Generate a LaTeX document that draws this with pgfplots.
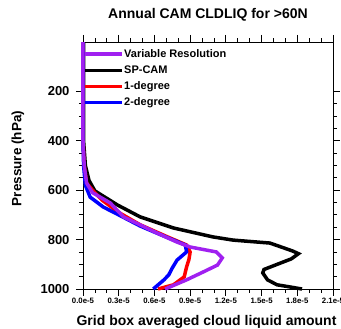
\documentclass[border=0pt]{standalone}
\usepackage{fontspec}
\setmainfont{Liberation Sans}
\usepackage{pgfplots}
\pgfplotsset{compat=1.18}
\definecolor{vrpurple}{RGB}{160,32,240}
\begin{document}
\begin{tikzpicture}
\useasboundingbox (-83pt,-40pt) rectangle (258pt,289pt);
\begin{axis}[
  scale only axis, width=250pt, height=247pt,
  xmin=0, xmax=2.1, ymin=0, ymax=1000, y dir=reverse,
  clip=false,
  axis line style={line width=0.8pt},
  every tick/.style={black, line width=0.8pt},
  tick align=outside,
  major tick length=7pt, minor tick length=4pt,
  xtick={0,0.3,0.6,0.9,1.2,1.5,1.8,2.1},
  xticklabels={0.0e-5,0.3e-5,0.6e-5,0.9e-5,1.2e-5,1.5e-5,1.8e-5,2.1e-5},
  minor x tick num=2,
  ytick={200,400,600,800,1000},
  yticklabels={200,400,600,800,1000},
  minor y tick num=3,
  /pgf/number format/assume math mode=true,
  xticklabel style={font=\fontsize{7.8}{9}\selectfont\bfseries, yshift=1pt},
  yticklabel style={font=\fontsize{13}{15}\selectfont\bfseries, xshift=-3pt},
  title={Annual CAM CLDLIQ for >60N},
  title style={font=\fontsize{14}{16}\selectfont\bfseries, at={(rel axis cs:0.5,1)}, anchor=center, yshift=21pt},
  xlabel={Grid box averaged cloud liquid amount},
  xlabel style={font=\fontsize{14}{16}\selectfont\bfseries, at={(rel axis cs:0.494,0)}, anchor=center, yshift=-33pt},
  ylabel={Pressure (hPa)},
  ylabel style={font=\fontsize{13.5}{16}\selectfont\bfseries, at={(rel axis cs:-0.26,0.528)}, anchor=center},
  legend style={at={(rel axis cs:0.0,0.975)}, anchor=north west, draw=none, fill=none,
    font=\fontsize{11}{12}\selectfont\bfseries, inner sep=0pt, row sep=4.7pt,
    nodes={inner sep=0.5pt, text height=8.5pt, text depth=2pt}},
  legend cell align=left,
  legend image code/.code={\draw[#1, line width=3.5pt] (0pt,0pt) -- (37pt,0pt);},
]
\addlegendimage{vrpurple}
\addlegendentry{Variable Resolution}
\addlegendimage{black}
\addlegendentry{SP-CAM}
\addlegendimage{red}
\addlegendentry{1-degree}
\addlegendimage{blue}
\addlegendentry{2-degree}

\addplot[forget plot, black, line width=3.5pt] coordinates {
(0.005,0) (0.005,200) (0.005,400) (0.02,500) (0.05,560) (0.1,603) (0.29,660) (0.48,708) (0.76,753) (1.09,789) (1.26,802) (1.57,814) (1.76,846) (1.81,857) (1.75,878) (1.68,891) (1.52,921) (1.51,935) (1.55,963) (1.63,983) (1.84,1000)
};
\addplot[forget plot, red, line width=3.5pt] coordinates {
(0,0) (0,400) (0.01,500) (0.03,571) (0.08,600) (0.16,640) (0.30,690) (0.48,740) (0.71,789) (0.87,822) (0.90,850) (0.89,880) (0.87,911) (0.85,951) (0.76,983) (0.63,1000)
};
\addplot[forget plot, blue, line width=3.5pt] coordinates {
(0,0) (0,400) (0.005,500) (0.02,580) (0.06,628) (0.17,668) (0.30,700) (0.48,745) (0.70,790) (0.86,822) (0.87,850) (0.79,883) (0.75,915) (0.72,943) (0.68,963) (0.59,1000)
};
\addplot[forget plot, vrpurple, line width=3.5pt] coordinates {
(0,0) (0,400) (0.01,500) (0.03,571) (0.08,610) (0.23,652) (0.34,708) (0.62,773) (0.79,810) (0.90,830) (1.12,850) (1.17,874) (1.13,903) (1.01,931) (0.87,963) (0.69,1000)
};
\end{axis}
\end{tikzpicture}
\end{document}
